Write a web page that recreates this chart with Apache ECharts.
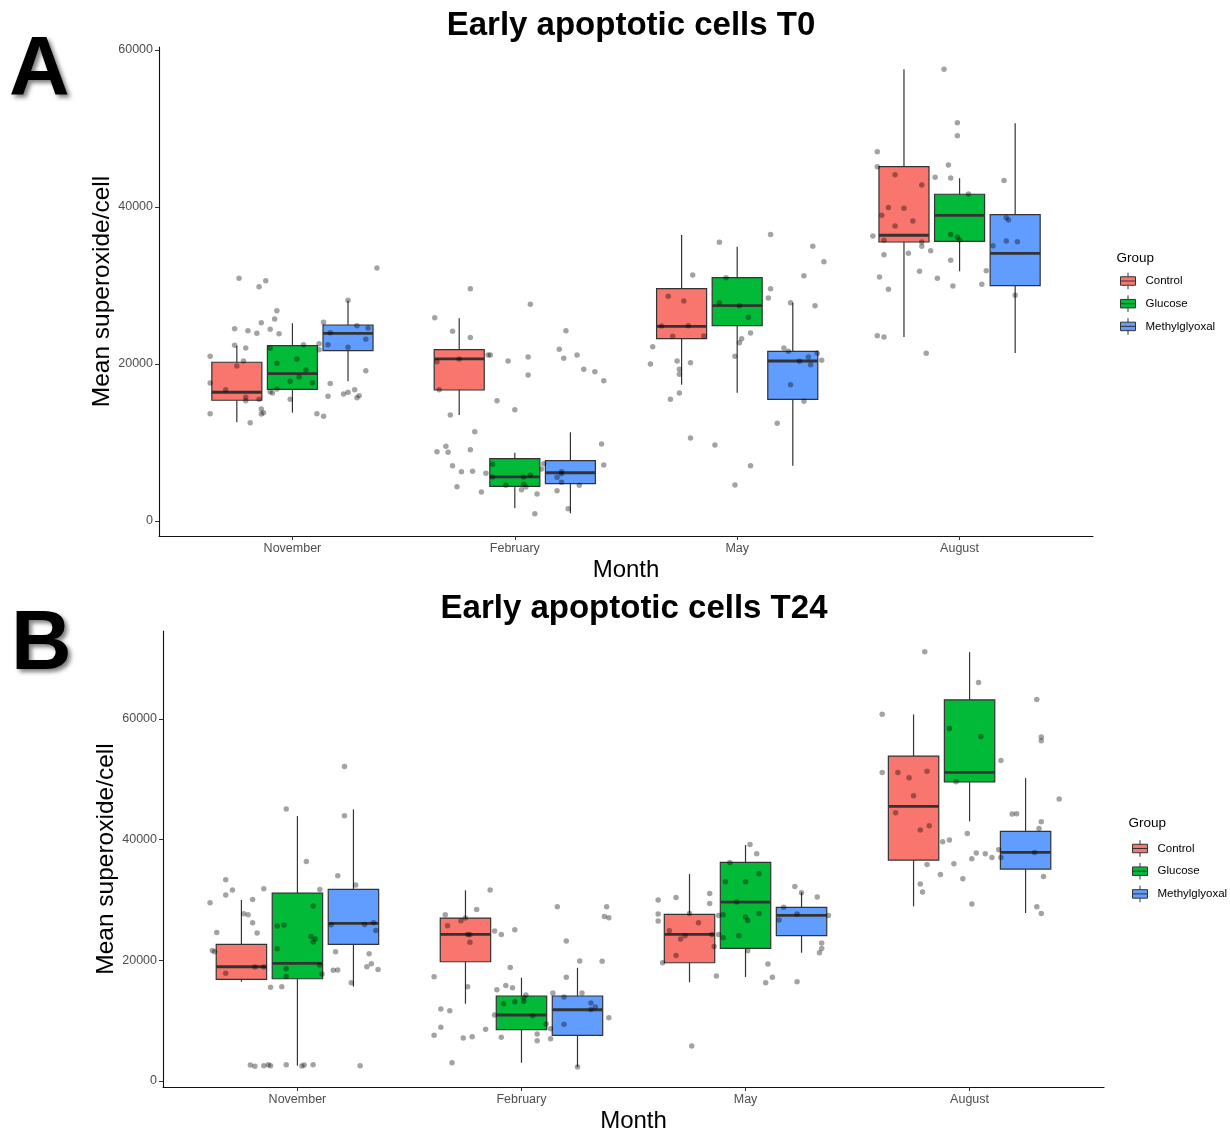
<!DOCTYPE html>
<html>
<head>
<meta charset="utf-8">
<script src="https://cdn.jsdelivr.net/npm/echarts@6/dist/echarts.min.js"></script>
<style>
html,body{margin:0;padding:0;background:#fff;}
#chart{width:1230px;height:1138px;}
</style>
</head>
<body>
<div id="chart"></div>
<script>
// ---------- data ----------
const months = ['November', 'February', 'May', 'August'];
const groups = ['Control', 'Glucose', 'Methylglyoxal'];
const yTicksT0 = [0, 20000, 40000, 60000];
const yTicksT24 = [0, 20000, 40000, 60000];

// box statistics per month: [lower whisker, Q1, median, Q3, upper whisker]
const t0Control = [[12570,15380,16400,20220,22330],[13500,16690,20640,21820,25820],[17360,23220,24800,29590,36430],[23440,35540,36400,45130,57540]];
const t0Glucose = [[13800,16780,18770,22330,25190],[1620,4420,5610,7940,8700],[16340,24880,27430,30990,34940],[31810,35630,38940,41620,43660]];
const t0Methyl  = [[17800,21700,23910,24970,28060],[980,4750,6150,7680,11300],[7050,15500,20380,21620,27810],[21400,29980,34100,39020,50660]];

const t24Control = [[16450,16850,18940,22650,29990],[12810,19770,24310,27010,31600],[16360,19600,24310,27620,34300],[28950,36620,45520,53850,60760]];
const t24Glucose = [[2540,16950,19500,31150,43910],[3030,8500,10940,14090,17120],[17230,21990,29660,36240,39110],[43030,49590,51150,63180,71090]];
const t24Methyl  = [[15630,22650,26130,31770,45020],[2320,7570,11810,14090,18770],[21260,24080,27460,28780,31270],[27840,35130,37900,41380,50210]];

// jittered observations: [month position on the axis (1..4 + jitter), value]
const t0Points = [
[0.76,30910],[0.85,29850],[0.88,30620],[1.38,32230],[1.25,28110],[0.93,26790],[0.92,25730],[0.86,25270],[1.14,25310],[0.74,24500],[0.80,24250],[0.84,23910],[0.90,24420],[0.94,23860],[0.74,22380],[0.79,22040],[0.90,22000],[1.05,22460],[1.12,22590],[1.12,21830],[1.17,23990],[1.29,24880],[1.34,24590],[1.16,22460],[1.25,22120],[1.33,23140],[0.63,20980],[0.78,20380],[0.75,19750],[0.93,20090],[1.02,20640],[1.06,19240],[1.33,19150],[0.63,17580],[0.70,16730],[0.93,16820],[0.90,16480],[0.91,16310],[0.99,17790],[1.03,18340],[1.09,17620],[1.17,17500],[0.79,15750],[0.79,15330],[0.85,15500],[0.99,15500],[1.16,15880],[1.23,16180],[1.25,16390],[1.28,16730],[1.29,15710],[1.30,15970],[0.63,13670],[0.86,14270],[0.87,13800],[0.86,13630],[0.81,12530],[1.11,13670],[1.14,13330],
[1.80,29600],[2.07,27600],[1.64,25900],[1.72,24160],[1.80,23360],[2.23,24250],[1.88,21150],[1.89,21150],[2.06,20890],[2.20,21870],[2.22,20720],[2.28,21150],[1.65,20300],[1.75,20640],[1.97,20380],[2.06,18600],[2.31,19320],[2.36,19020],[2.40,17880],[1.66,16730],[1.92,15330],[2.00,14180],[1.71,13500],[1.82,11380],[1.65,8830],[1.69,9510],[1.70,8750],[1.80,9090],[2.39,9810],[1.72,7050],[1.76,6290],[1.81,6330],[1.90,7220],[2.13,7300],[2.12,6620],[2.21,6290],[2.21,6030],[2.19,5560],[1.87,6070],[2.40,7130],[1.90,5610],[2.04,5610],[2.07,5860],[1.96,4540],[2.04,4670],[2.05,4330],[2.03,3990],[2.21,4930],[2.29,4540],[1.74,4370],[1.85,3690],[2.10,3440],[2.19,3860],[2.09,930],[2.24,1570],
[3.15,36480],[2.92,35500],[3.34,34990],[3.39,33040],[2.80,31340],[3.30,31250],[2.95,31000],[3.15,29600],[3.14,28410],[2.69,28620],[2.76,28030],[2.92,27810],[3.01,27430],[3.35,27430],[3.05,25950],[3.24,27810],[2.66,24840],[2.78,24880],[2.71,23530],[2.85,23570],[3.06,23950],[3.02,23230],[3.01,22720],[2.62,22210],[3.21,22040],[3.23,21610],[3.36,21360],[3.32,20890],[3.28,20340],[3.33,19920],[3.38,20470],[2.61,20000],[2.73,20380],[2.79,20170],[2.74,19320],[2.74,18680],[2.99,20980],[3.24,17370],[2.74,16310],[2.70,15500],[3.30,15240],[3.18,12440],[2.79,10570],[2.90,9680],[3.06,7050],[2.99,4590],
[3.93,57540],[3.99,50740],[3.99,49090],[3.63,47050],[3.63,45140],[3.95,45350],[3.89,43780],[3.96,43690],[3.71,44120],[3.83,42800],[4.20,43360],[4.04,41660],[3.68,39920],[3.75,39830],[3.65,38940],[3.79,38220],[3.71,37580],[4.21,38640],[4.22,38340],[3.61,36310],[3.66,35750],[3.96,36480],[3.99,36140],[4.00,35800],[4.21,35670],[4.26,35580],[4.15,35070],[3.83,35540],[3.83,34990],[3.77,34100],[3.87,34440],[3.66,33930],[3.96,33210],[3.82,31810],[4.12,31890],[3.64,31080],[3.90,30910],[4.10,30150],[3.97,29940],[3.68,29510],[4.25,28750],[3.63,23610],[3.66,23440],[3.85,21360]
];

const t24Points = [
[1.21,52140],[0.95,45070],[1.21,43960],[1.04,36400],[1.18,34020],[0.68,33360],[0.71,31650],[0.68,30820],[0.85,31870],[1.10,31760],[1.26,32480],[0.80,30100],[0.61,29550],[1.07,29000],[0.76,27730],[0.78,27560],[0.80,26230],[0.64,24630],[0.82,24520],[0.91,25680],[0.94,25850],[1.06,23970],[1.08,23530],[1.07,23030],[1.15,25900],[1.30,25960],[1.34,26230],[1.35,24960],[0.62,21650],[0.63,21430],[0.91,21930],[1.17,21430],[1.32,21100],[1.33,19440],[1.31,18940],[1.36,18500],[1.16,18340],[1.18,18390],[0.81,18890],[0.85,18890],[0.68,17840],[0.95,18610],[1.10,19220],[1.11,17730],[0.95,17340],[0.88,15520],[0.93,15630],[1.24,16290],[0.79,2650],[0.81,2430],[0.85,2540],[0.87,2710],[0.88,2540],[0.95,2710],[1.02,2490],[1.03,2650],[1.07,2710],[1.28,2540],
[1.86,31650],[2.16,28890],[2.38,28890],[1.80,28440],[1.66,27560],[1.75,27010],[1.73,26570],[1.67,25740],[2.37,27280],[2.39,27060],[1.88,24850],[1.91,24300],[1.97,25070],[1.76,24300],[1.77,24250],[1.77,22980],[2.20,23200],[2.26,19880],[2.36,19830],[1.61,17290],[1.95,18830],[2.20,17180],[1.76,15630],[1.93,15850],[1.96,15460],[1.89,15130],[2.14,14580],[2.27,14580],[2.02,14250],[2.01,13750],[2.19,13920],[1.92,12810],[1.97,13150],[2.01,13200],[2.31,12920],[2.33,12260],[2.31,11870],[1.64,11930],[1.68,11650],[1.88,10940],[2.05,10830],[2.11,9440],[2.19,9390],[2.39,10490],[2.13,8670],[1.64,8890],[1.84,8560],[1.61,7570],[1.74,7130],[1.78,7350],[1.91,7240],[2.07,7790],[2.07,6680],[2.13,7010],[1.69,3040],[2.25,2320],
[3.02,39210],[3.05,37670],[2.93,36230],[3.06,34350],[2.91,33030],[3.00,33030],[3.22,32250],[3.25,31210],[3.32,30490],[2.61,29990],[2.69,30430],[2.84,31090],[2.84,29440],[2.96,29660],[3.17,28780],[2.61,27670],[2.61,26510],[2.75,27780],[2.79,26230],[2.88,27450],[2.90,27560],[3.06,27780],[3.00,27170],[3.01,26620],[3.23,27670],[3.15,26680],[3.37,27450],[2.66,24910],[2.73,24080],[2.71,23530],[2.85,24300],[2.88,24300],[2.97,24080],[2.90,23750],[2.86,22310],[2.69,20820],[3.01,21600],[3.34,22870],[3.34,21980],[3.33,21260],[2.63,19610],[3.10,19390],[2.87,17400],[3.12,17180],[3.09,16290],[3.23,16460],[2.76,5800],
[3.80,71140],[4.04,66060],[4.30,63240],[3.61,60810],[3.91,58430],[4.05,57110],[4.32,57000],[4.32,56390],[4.14,53130],[3.61,51140],[3.68,51140],[3.73,50260],[3.81,51360],[3.75,47280],[3.94,49600],[4.40,46730],[3.67,44460],[4.19,44240],[4.21,44290],[4.32,42970],[4.31,41860],[3.78,41590],[3.82,42310],[3.99,41040],[3.88,39660],[3.91,39930],[4.03,37780],[4.07,37670],[4.01,36840],[4.10,37060],[4.13,38330],[4.14,37060],[4.29,37890],[3.81,35900],[3.93,36010],[3.87,34240],[3.97,33530],[4.33,33910],[3.78,32640],[3.79,31320],[4.01,29330],[4.30,28890],[4.32,27780]
];

// ---------- style / layout ----------
const FONT = '"Liberation Sans", Arial, sans-serif';
const COLORS = ['#F8766D', '#00BA38', '#619CFF'];
const DODGE = [-0.25, 0, 0.25];
const BOX_W = 0.225;
const EDGE = '#333333';

function boxData(stats, g) {
  return stats.map((s, i) => [i + 1 + DODGE[g]].concat(s));
}

function renderBox(params, api) {
  const x = api.value(0);
  const hw = api.size([BOX_W, 0])[0] / 2;
  const pMin = api.coord([x, api.value(1)]);
  const pQ1 = api.coord([x, api.value(2)]);
  const pMed = api.coord([x, api.value(3)]);
  const pQ3 = api.coord([x, api.value(4)]);
  const pMax = api.coord([x, api.value(5)]);
  const fill = api.visual('color');
  return {
    type: 'group',
    children: [
      {type: 'line', shape: {x1: pMax[0], y1: pMax[1], x2: pQ3[0], y2: pQ3[1]}, style: {stroke: EDGE, lineWidth: 1.2}},
      {type: 'line', shape: {x1: pQ1[0], y1: pQ1[1], x2: pMin[0], y2: pMin[1]}, style: {stroke: EDGE, lineWidth: 1.2}},
      {type: 'rect', shape: {x: pQ3[0] - hw, y: pQ3[1], width: 2 * hw, height: pQ1[1] - pQ3[1]}, style: {fill: fill, stroke: EDGE, lineWidth: 1.2}},
      {type: 'line', shape: {x1: pMed[0] - hw, y1: pMed[1], x2: pMed[0] + hw, y2: pMed[1]}, style: {stroke: EDGE, lineWidth: 2.8}}
    ]
  };
}

const panels = [
  {grid: {left: 159, top: 47, width: 934, height: 489}, ymin: -1910, ymax: 60380, ticks: yTicksT0,
   boxes: [t0Control, t0Glucose, t0Methyl], points: t0Points},
  {grid: {left: 163, top: 631, width: 941, height: 456}, ymin: -995, ymax: 74590, ticks: yTicksT24,
   boxes: [t24Control, t24Glucose, t24Methyl], points: t24Points}
];

const grids = [], xAxes = [], yAxes = [], series = [];
panels.forEach((p, pi) => {
  grids.push(p.grid);
  xAxes.push({
    type: 'value', gridIndex: pi, min: 0.4, max: 4.6,
    axisLine: {show: true, onZero: false, lineStyle: {color: '#111', width: 1.1}},
    axisTick: {show: true, length: 4, customValues: [1, 2, 3, 4], lineStyle: {color: '#333', width: 1}},
    axisLabel: {customValues: [1, 2, 3, 4], formatter: v => months[Math.round(v) - 1], color: '#4D4D4D', fontSize: 12.5, margin: 6, fontFamily: FONT},
    splitLine: {show: false},
    name: 'Month', nameLocation: 'middle', nameGap: 22,
    nameTextStyle: {fontSize: 24, color: '#000', fontFamily: FONT, verticalAlign: 'top'}
  });
  yAxes.push({
    type: 'value', gridIndex: pi, min: p.ymin, max: p.ymax,
    axisLine: {show: true, onZero: false, lineStyle: {color: '#111', width: 1.1}},
    axisTick: {show: true, length: 4, customValues: p.ticks, lineStyle: {color: '#333', width: 1}},
    axisLabel: {customValues: p.ticks, formatter: v => String(v), color: '#4D4D4D', fontSize: 12.5, margin: 6, fontFamily: FONT},
    splitLine: {show: false},
    name: 'Mean superoxide/cell', nameLocation: 'middle', nameRotate: 90, nameGap: 44, nameMoveOverlap: false,
    nameTextStyle: {fontSize: 24.5, color: '#000', fontFamily: FONT}
  });
  p.boxes.forEach((stats, g) => {
    series.push({
      type: 'custom', name: groups[g], xAxisIndex: pi, yAxisIndex: pi,
      data: boxData(stats, g), renderItem: renderBox,
      encode: {x: 0, y: [1, 2, 3, 4, 5]},
      itemStyle: {color: COLORS[g], borderColor: EDGE, borderWidth: 1},
      z: 2, silent: true
    });
  });
  series.push({
    type: 'scatter', name: 'obs' + pi, xAxisIndex: pi, yAxisIndex: pi,
    data: p.points, symbolSize: 5.5,
    itemStyle: {color: 'rgba(0,0,0,0.45)'},
    z: 3, silent: true
  });
});

const KEY_ICON = 'path://M0,4H15V12.5H0Z M0,8.25H15 M7.5,0V4 M7.5,12.5V16.5';
function legendAt(left, top) {
  return {
    data: groups, left: left, top: top, orient: 'vertical', padding: 0,
    itemWidth: 15, itemHeight: 16.5, itemGap: 5.2, icon: KEY_ICON, selectedMode: false,
    itemStyle: {borderColor: EDGE, borderWidth: 1},
    textStyle: {fontSize: 11.5, color: '#000', fontFamily: FONT, padding: [0, 0, 0, 5]}
  };
}

function txt(x, y, text, size, weight, align, extra) {
  return {type: 'text', x: x, y: y, silent: true,
    style: Object.assign({text: text, fontSize: size, fontWeight: weight, fontFamily: FONT, fill: '#000', align: align, verticalAlign: 'middle'}, extra || {})};
}
const shadow = {textShadowColor: 'rgba(0,0,0,0.5)', textShadowBlur: 4, textShadowOffsetX: 3, textShadowOffsetY: 3};

const chart = echarts.init(document.getElementById('chart'), null, {renderer: 'canvas'});
chart.setOption({
  animation: false,
  backgroundColor: '#fff',
  grid: grids, xAxis: xAxes, yAxis: yAxes, series: series,
  legend: [legendAt(1120, 272.25), legendAt(1132, 839.75)],
  graphic: [
    txt(631, 26, 'Early apoptotic cells T0', 33, 'bold', 'center'),
    txt(634, 608.5, 'Early apoptotic cells T24', 33, 'bold', 'center'),
    txt(9, 72, 'A', 84, 'bold', 'left', shadow),
    txt(11, 646, 'B', 84, 'bold', 'left', shadow),
    txt(1116.5, 258.3, 'Group', 13.5, 'normal', 'left'),
    txt(1128.5, 823.3, 'Group', 13.5, 'normal', 'left')
  ]
});
</script>
</body>
</html>
